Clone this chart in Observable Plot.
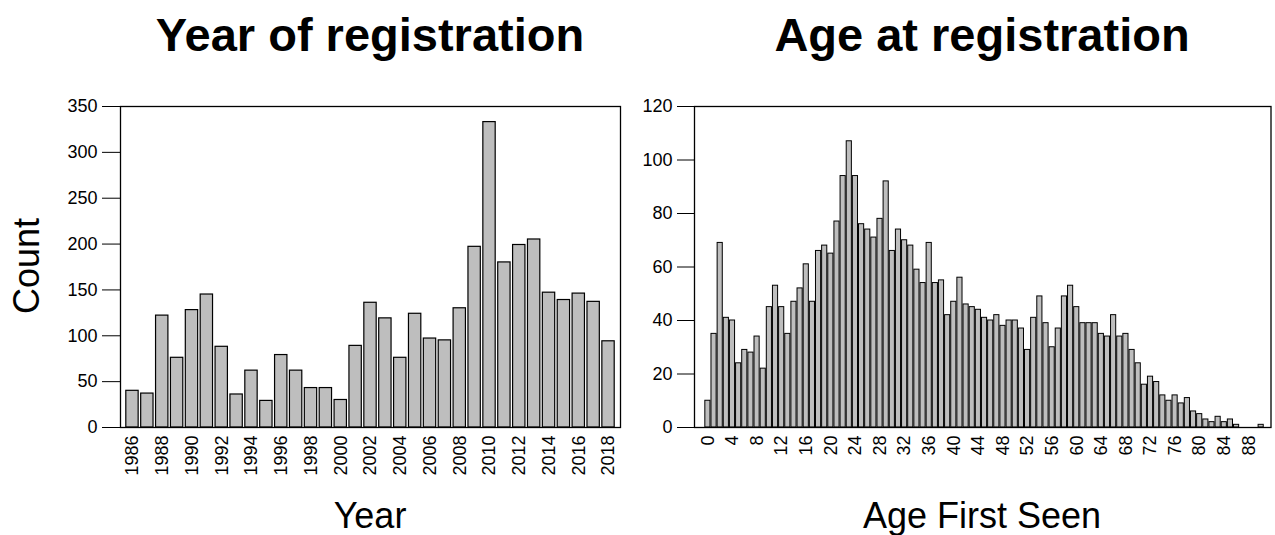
<!DOCTYPE html>
<html><head><meta charset="utf-8">
<script src="https://cdn.jsdelivr.net/npm/d3@7"></script>
<script src="https://cdn.jsdelivr.net/npm/@observablehq/plot@0.6"></script>
<style>
body{margin:0;background:#fff;}
#wrap{position:relative;width:1275px;height:535px;font-family:"Liberation Sans",Arial,sans-serif;color:#000;overflow:hidden;}
.t{position:absolute;top:11px;font-size:47px;font-weight:bold;line-height:1;white-space:nowrap;transform:translateX(-50%);}
.l{position:absolute;font-size:36px;line-height:1;white-space:nowrap;}
.p{position:absolute;top:0;}
</style></head><body><div id="wrap"></div>
<script>
// ---- data ----
const years = [1986,1987,1988,1989,1990,1991,1992,1993,1994,1995,1996,1997,1998,1999,2000,2001,2002,2003,2004,2005,2006,2007,2008,2009,2010,2011,2012,2013,2014,2015,2016,2017,2018];
const yearCounts = [40,37,122,76,128,145,88,36,62,29,79,62,43,43,30,89,136,119,76,124,97,95,130,197,333,180,199,205,147,139,146,137,94];
const yearTickLabels = [1986,1988,1990,1992,1994,1996,1998,2000,2002,2004,2006,2008,2010,2012,2014,2016,2018];
const yearYTicks = [0,50,100,150,200,250,300,350];

const ages = [0,1,2,3,4,5,6,7,8,9,10,11,12,13,14,15,16,17,18,19,20,21,22,23,24,25,26,27,28,29,30,31,32,33,34,35,36,37,38,39,40,41,42,43,44,45,46,47,48,49,50,51,52,53,54,55,56,57,58,59,60,61,62,63,64,65,66,67,68,69,70,71,72,73,74,75,76,77,78,79,80,81,82,83,84,85,86,87,88,89,90];
const ageCounts = [10,35,69,41,40,24,29,28,34,22,45,53,45,35,47,52,61,47,66,68,65,77,94,107,94,76,74,71,78,92,66,74,70,68,59,54,69,54,55,42,47,56,46,45,44,41,40,42,38,40,40,37,29,41,49,39,30,37,49,53,45,39,39,39,35,34,42,34,35,29,24,16,19,17,12,10,12,9,11,6,5,3,2,4,2,3,1,0,0,0,1];
const ageTickLabels = [0,4,8,12,16,20,24,28,32,36,40,44,48,52,56,60,64,68,72,76,80,84,88];
const ageYTicks = [0,20,40,60,80,100,120];

const titles = ["Year of registration","Age at registration"];
const xLabels = ["Year","Age First Seen"];
const yLabel = "Count";

// ---- drawing ----
const FONT = '"Liberation Sans", Arial, sans-serif';
const FILL = "#bebebe";
const wrap = document.getElementById("wrap");

const yearData = years.map((y,i)=>({year:y, count:yearCounts[i]}));
const ageData = ages.map((a,i)=>({age:a, count:ageCounts[i]}));

const left = Plot.plot({
  width: 640, height: 535,
  marginLeft: 120, marginRight: 20, marginTop: 106, marginBottom: 108,
  style: {fontFamily: FONT, fontSize: "18px", background: "transparent", overflow: "visible", color: "#000"},
  x: {type: "band", domain: years, paddingInner: 0.17, paddingOuter: 0.39, round: false, axis: null},
  y: {domain: [0,350]},
  marks: [
    Plot.barY(yearData, {x: "year", y: "count", fill: FILL, stroke: "#000", strokeWidth: 1.2}),
    Plot.frame({stroke: "#000", strokeWidth: 1.3}),
    Plot.axisY({ticks: yearYTicks, tickSize: 18, tickPadding: 5, fontSize: 18, label: null, tickFormat: d=>String(d)}),
    Plot.text(yearTickLabels, {x: d=>d, text: d=>String(d), frameAnchor: "bottom", dy: 8, rotate: -90, textAnchor: "end", lineAnchor: "middle", fontSize: 18})
  ]
});
left.classList.add("p"); left.style.left = "0px";
wrap.appendChild(left);

const right = Plot.plot({
  width: 645, height: 535,
  marginLeft: 64, marginRight: 4.5, marginTop: 106, marginBottom: 108,
  style: {fontFamily: FONT, fontSize: "18px", background: "transparent", overflow: "visible", color: "#000"},
  x: {domain: [-2.18, 91.6], axis: null},
  y: {domain: [0,120]},
  marks: [
    Plot.rectY(ageData.filter(d=>d.count>0), {x1: d=>d.age-0.5, x2: d=>d.age+0.5, y: "count", insetLeft: 0.5, insetRight: 0.5, fill: FILL, stroke: "#000", strokeWidth: 1}),
    Plot.frame({stroke: "#000", strokeWidth: 1.3}),
    Plot.axisY({ticks: ageYTicks, tickSize: 17, tickPadding: 5, fontSize: 18, label: null, tickFormat: d=>String(d)}),
    Plot.text(ageTickLabels, {x: d=>d, text: d=>String(d), frameAnchor: "bottom", dy: 8, rotate: -90, textAnchor: "end", lineAnchor: "middle", fontSize: 18})
  ]
});
right.classList.add("p"); right.style.left = "630px";
wrap.appendChild(right);

function addText(cls, txt, css){
  const d = document.createElement("div");
  d.className = cls; d.textContent = txt;
  Object.assign(d.style, css);
  wrap.appendChild(d);
}
addText("t", titles[0], {left: "370px"});
addText("t", titles[1], {left: "982px"});
addText("l", xLabels[0], {left: "370px", top: "498px", transform: "translateX(-50%)"});
addText("l", xLabels[1], {left: "982px", top: "498px", transform: "translateX(-50%)"});
addText("l", yLabel, {left: "27px", top: "266px", transform: "translate(-50%,-50%) rotate(-90deg)"});
</script></body></html>
